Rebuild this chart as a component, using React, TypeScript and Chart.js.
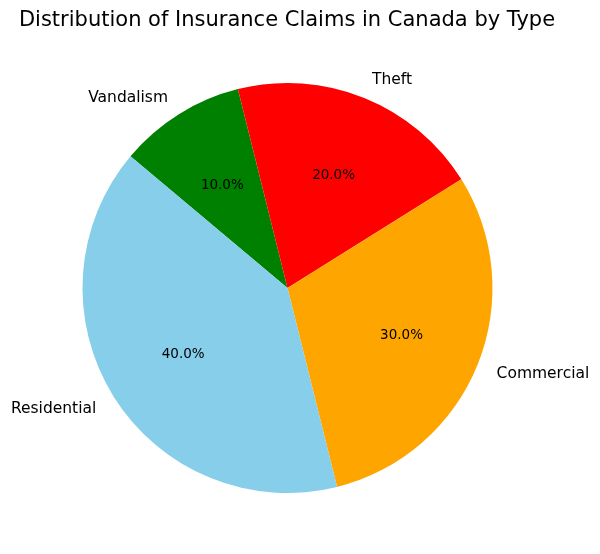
import React, { useEffect, useRef } from "react";
import { Chart, registerables } from "chart.js";

Chart.register(...registerables);

const categories = ["Residential", "Commercial", "Theft", "Vandalism"];
const shares = [40, 30, 20, 10];
const colors = ["#87CEEB", "#FFA500", "#FF0000", "#008000"];
const title = "Distribution of Insurance Claims in Canada by Type";

// matplotlib draws counter-clockwise from 140°, Chart.js clockwise: reverse order
const labelsCW = [...categories].reverse();
const valuesCW = [...shares].reverse();
const colorsCW = [...colors].reverse();

const FONT = "'DejaVu Sans', sans-serif";

const labelPlugin = {
  id: "mplLabels",
  afterDraw(chart: any) {
    const ctx = chart.ctx;
    const meta = chart.getDatasetMeta(0);
    const total = valuesCW.reduce((a, b) => a + b, 0);
    ctx.save();
    meta.data.forEach((arc: any, i: number) => {
      const mid = (arc.startAngle + arc.endAngle) / 2;
      const r = arc.outerRadius;
      const cx = arc.x;
      const cy = arc.y;
      const lx = cx + Math.cos(mid) * r * 1.1;
      const ly = cy + Math.sin(mid) * r * 1.1;
      ctx.fillStyle = "#000";
      ctx.font = `15.5px ${FONT}`;
      ctx.textBaseline = "middle";
      ctx.textAlign = Math.cos(mid) >= 0 ? "left" : "right";
      ctx.fillText(labelsCW[i], lx, ly + 1.5);
      const px = cx + Math.cos(mid) * r * 0.6;
      const py = cy + Math.sin(mid) * r * 0.6;
      ctx.font = `13.5px ${FONT}`;
      ctx.textAlign = "center";
      ctx.fillText(((valuesCW[i] / total) * 100).toFixed(1) + "%", px, py + 1.5);
    });
    ctx.font = `21px ${FONT}`;
    ctx.textAlign = "center";
    ctx.textBaseline = "middle";
    ctx.fillText(title, 287, 21);
    ctx.restore();
  },
};

export default function App() {
  const ref = useRef<HTMLCanvasElement>(null);
  useEffect(() => {
    if (!ref.current) return;
    const chart = new Chart(ref.current, {
      type: "pie",
      data: {
        labels: labelsCW,
        datasets: [
          {
            data: valuesCW,
            backgroundColor: colorsCW,
            borderWidth: 0,
          },
        ],
      },
      options: {
        responsive: false,
        animation: false,
        rotation: -50,
        layout: { padding: { left: 82.5, right: 107.5, top: 83, bottom: 61 } },
        plugins: {
          legend: { display: false },
          tooltip: { enabled: false },
          title: { display: false },
        },
      },
      plugins: [labelPlugin],
    });
    return () => chart.destroy();
  }, []);
  return (
    <canvas
      ref={ref}
      width={600}
      height={554}
      style={{ position: "absolute", left: 0, top: 0, width: 600, height: 554, background: "#fff" }}
    />
  );
}
